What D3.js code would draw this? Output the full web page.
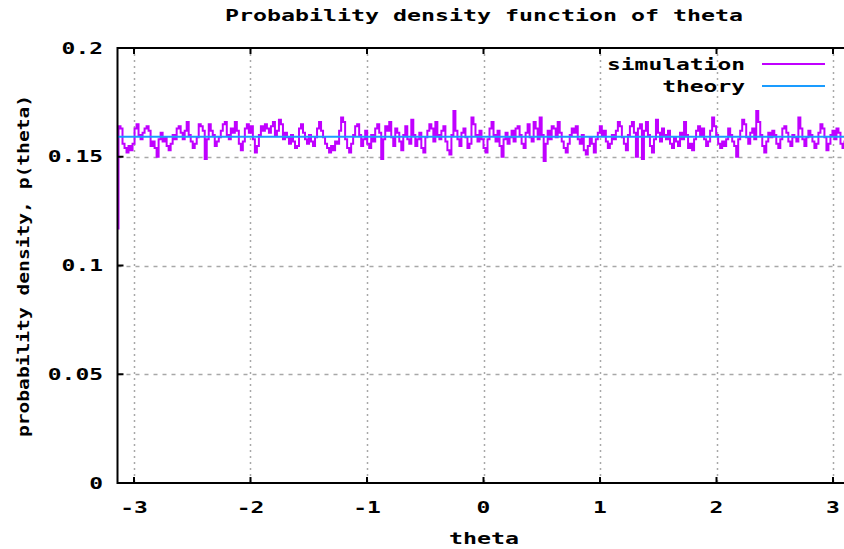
<!DOCTYPE html>
<html>
<head>
<meta charset="utf-8">
<script src="https://cdn.jsdelivr.net/npm/d3@7"></script>
<style>
  html, body { margin: 0; padding: 0; background: #fff; }
  svg { display: block; }
  text { font-family: "DejaVu Sans Mono", "Liberation Mono", monospace; font-weight: bold; fill: #000; }
</style>
</head>
<body>
<svg id="chart" width="844" height="549"></svg>
<script>
// Histogram estimate of p(theta) from the simulation, sampled evenly over [-pi, pi]
const simulation = [
  0.117, 0.164, 0.163, 0.156, 0.154, 0.152, 0.155, 0.153, 0.156, 0.163, 0.165, 0.160, 0.158, 0.161, 0.163, 0.164, 0.162, 0.155, 0.157, 0.154, 0.150, 0.158, 0.161, 0.157, 0.159, 0.155, 0.153, 0.156, 0.160, 0.158, 0.163, 0.164, 0.161, 0.158, 0.162, 0.166, 0.160, 0.157, 0.154, 0.156, 0.159, 0.165, 0.164, 0.162, 0.149, 0.158, 0.165, 0.162, 0.160, 0.155, 0.157, 0.159, 0.162, 0.165, 0.166, 0.160, 0.158, 0.163, 0.161, 0.166, 0.162,
  0.156, 0.153, 0.157, 0.163, 0.165, 0.161, 0.164, 0.158, 0.152, 0.155, 0.160, 0.164, 0.162, 0.165, 0.163, 0.161, 0.164, 0.166, 0.160, 0.162, 0.167, 0.165, 0.158, 0.161, 0.159, 0.156, 0.160, 0.157, 0.154, 0.155, 0.163, 0.165, 0.161, 0.158, 0.156, 0.160, 0.157, 0.155, 0.159, 0.163, 0.166, 0.162, 0.159, 0.156, 0.154, 0.152, 0.155, 0.153, 0.157, 0.156, 0.162, 0.168, 0.166, 0.158, 0.154, 0.152, 0.156, 0.160, 0.164, 0.165, 0.160,
  0.155, 0.158, 0.162, 0.156, 0.154, 0.160, 0.157, 0.163, 0.165, 0.161, 0.149, 0.158, 0.164, 0.162, 0.166, 0.159, 0.155, 0.163, 0.161, 0.157, 0.153, 0.160, 0.164, 0.158, 0.156, 0.167, 0.160, 0.155, 0.158, 0.161, 0.154, 0.152, 0.159, 0.162, 0.165, 0.163, 0.157, 0.166, 0.160, 0.158, 0.162, 0.164, 0.157, 0.153, 0.151, 0.160, 0.171, 0.162, 0.158, 0.155, 0.161, 0.163, 0.159, 0.154, 0.156, 0.168, 0.165, 0.160, 0.157, 0.162, 0.158,
  0.154, 0.152, 0.158, 0.163, 0.166, 0.160, 0.157, 0.162, 0.155, 0.150, 0.158, 0.161, 0.156, 0.159, 0.162, 0.157, 0.163, 0.164, 0.160, 0.156, 0.154, 0.161, 0.165, 0.159, 0.157, 0.166, 0.163, 0.158, 0.168, 0.160, 0.148, 0.156, 0.162, 0.158, 0.164, 0.163, 0.159, 0.166, 0.161, 0.157, 0.154, 0.152, 0.156, 0.160, 0.163, 0.161, 0.164, 0.158, 0.156, 0.160, 0.153, 0.151, 0.155, 0.159, 0.156, 0.152, 0.158, 0.161, 0.164, 0.160, 0.162,
  0.157, 0.154, 0.156, 0.160, 0.158, 0.162, 0.166, 0.164, 0.159, 0.156, 0.153, 0.160, 0.164, 0.166, 0.161, 0.150, 0.163, 0.165, 0.149, 0.162, 0.166, 0.160, 0.155, 0.152, 0.158, 0.167, 0.161, 0.157, 0.163, 0.160, 0.158, 0.162, 0.156, 0.154, 0.159, 0.157, 0.155, 0.161, 0.158, 0.166, 0.160, 0.154, 0.156, 0.153, 0.158, 0.162, 0.164, 0.160, 0.163, 0.158, 0.155, 0.157, 0.162, 0.168, 0.164, 0.160, 0.156, 0.154, 0.157, 0.155, 0.158,
  0.163, 0.160, 0.157, 0.155, 0.150, 0.158, 0.162, 0.167, 0.165, 0.159, 0.156, 0.161, 0.163, 0.158, 0.171, 0.166, 0.160, 0.155, 0.152, 0.157, 0.161, 0.159, 0.162, 0.160, 0.156, 0.154, 0.158, 0.163, 0.164, 0.161, 0.157, 0.155, 0.160, 0.159, 0.157, 0.168, 0.163, 0.158, 0.155, 0.159, 0.162, 0.160, 0.157, 0.154, 0.156, 0.161, 0.165, 0.163, 0.159, 0.153, 0.156, 0.160, 0.162, 0.158, 0.163, 0.161, 0.156, 0.154, 0.157, 0.159, 0.157
];

// Uniform density on the circle: 1 / (2 pi)
const theoryX = [-Math.PI, Math.PI];
const theoryY = [1 / (2 * Math.PI), 1 / (2 * Math.PI)];

const xTicks = [-3, -2, -1, 0, 1, 2, 3];
const xTickLabels = ["-3", "-2", "-1", "0", "1", "2", "3"];
const yTicks = [0, 0.05, 0.1, 0.15, 0.2];
const yTickLabels = ["0", "0.05", "0.1", "0.15", "0.2"];

const titleText = "Probability density function of theta";
const xLabel = "theta";
const yLabel = "probability density, p(theta)";
const seriesNames = ["simulation", "theory"];
const seriesColors = ["#c000ff", "#1a9cff"];

const svg = d3.select("#chart");
const plotL = 117.5, plotR = 849.5, plotT = 48, plotB = 483;
const CW = 13.8; // character advance of the wide bold font

const x = d3.scaleLinear().domain([-Math.PI, Math.PI]).range([plotL, plotR]);
const y = d3.scaleLinear().domain([0, 0.2]).range([plotB, plotT]);

function wide(sel, str, perChar) {
  sel.text(str).attr("font-size", 15)
    .attr("textLength", str.length * perChar)
    .attr("lengthAdjust", "spacingAndGlyphs");
  return sel;
}

svg.append("defs").append("clipPath").attr("id", "plotclip")
  .append("rect").attr("x", plotL).attr("y", plotT).attr("width", plotR - plotL).attr("height", plotB - plotT);

// grid
const grid = svg.append("g").attr("stroke", "#a8a8a8").attr("stroke-width", 1.5).attr("fill", "none");
grid.selectAll("line.v").data(xTicks).join("line")
  .attr("x1", d => Math.round(x(d)) + 0.5).attr("x2", d => Math.round(x(d)) + 0.5)
  .attr("y1", plotT).attr("y2", plotB)
  .attr("stroke-dasharray", "2,4");
grid.selectAll("line.h").data(yTicks.filter(d => d > 0 && d < 0.2)).join("line")
  .attr("x1", plotL).attr("x2", plotR)
  .attr("y1", d => Math.round(y(d)) + 0.5).attr("y2", d => Math.round(y(d)) + 0.5)
  .attr("stroke-dasharray", "4,5");

// data lines
const plot = svg.append("g").attr("clip-path", "url(#plotclip)");
const step = 2 * Math.PI / (simulation.length - 1);
const simLine = d3.line().curve(d3.curveStep)
  .x((d, i) => x(-Math.PI + i * step)).y(d => y(d));
plot.append("path").datum(simulation)
  .attr("d", simLine).attr("fill", "none")
  .attr("stroke", seriesColors[0]).attr("stroke-width", 2).attr("stroke-linejoin", "miter");

const theoryLine = d3.line().x((d, i) => x(theoryX[i])).y(d => y(d));
plot.append("path").datum(theoryY)
  .attr("d", theoryLine).attr("fill", "none")
  .attr("stroke", seriesColors[1]).attr("stroke-width", 2);

// axes: left, bottom and top borders with inward ticks
const axes = svg.append("g").attr("stroke", "#000").attr("stroke-width", 2).attr("fill", "none");
axes.append("path").attr("d", `M${plotR},${plotT}H${plotL}V${plotB}H${plotR}`);
axes.selectAll("line.xb").data(xTicks).join("line")
  .attr("x1", d => x(d)).attr("x2", d => x(d)).attr("y1", plotB).attr("y2", plotB - 6);
axes.selectAll("line.xt").data(xTicks).join("line")
  .attr("x1", d => x(d)).attr("x2", d => x(d)).attr("y1", plotT).attr("y2", plotT + 6);
axes.selectAll("line.yl").data(yTicks).join("line")
  .attr("x1", plotL).attr("x2", plotL + 6).attr("y1", d => y(d)).attr("y2", d => y(d));

// tick labels
svg.append("g").selectAll("text").data(xTicks).join("text")
  .attr("x", d => x(d)).attr("y", 513).attr("text-anchor", "middle")
  .each(function (d, i) { wide(d3.select(this), xTickLabels[i], CW); });
svg.append("g").selectAll("text").data(yTicks).join("text")
  .attr("x", 103).attr("y", d => y(d) + 5.5).attr("text-anchor", "end")
  .each(function (d, i) { wide(d3.select(this), yTickLabels[i], CW); });

// titles
wide(svg.append("text").attr("x", 484).attr("y", 21).attr("text-anchor", "middle"), titleText, 14);
wide(svg.append("text").attr("x", 484).attr("y", 544).attr("text-anchor", "middle"), xLabel, 14);
wide(svg.append("text").attr("text-anchor", "middle")
  .attr("transform", "translate(29,266) rotate(-90)"), yLabel, 11.8);

// legend
const legend = svg.append("g");
seriesNames.forEach((name, i) => {
  const ly = 64 + i * 22;
  wide(legend.append("text").attr("x", 745).attr("y", ly + 6).attr("text-anchor", "end"), name, CW);
  legend.append("line").attr("x1", 762).attr("x2", 825).attr("y1", ly).attr("y2", ly)
    .attr("stroke", seriesColors[i]).attr("stroke-width", 2);
});
</script>
</body>
</html>
